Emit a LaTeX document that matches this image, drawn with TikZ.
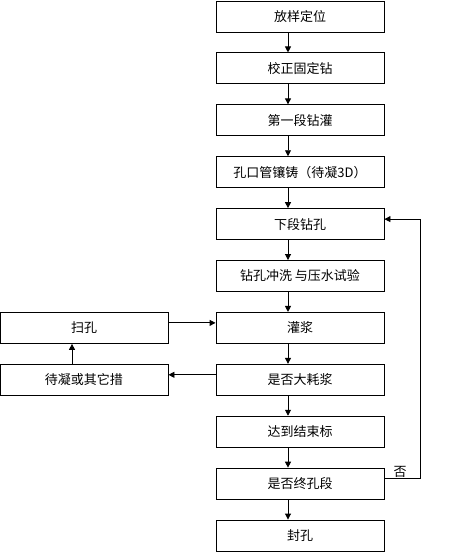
\documentclass[tikz,border=0pt]{standalone}
\usepackage{fontspec}
\setmainfont{Noto Sans CJK SC}
\usetikzlibrary{arrows.meta, positioning, calc}

\begin{document}
\begin{tikzpicture}[
    x=1pt, y=-1pt,
    stepbox/.style={rectangle, draw=black, line width=0.9pt, fill=white,
                    minimum width=168pt, minimum height=31pt, inner sep=0pt,
                    font=\fontsize{13}{15}\selectfont},
    arrow/.style={-{Triangle[length=6pt,width=6pt]}, line width=0.9pt}
]
\useasboundingbox (0,0) rectangle (456,552);

% Main column
\node[stepbox] at (300,16.5) (fy) {放样定位};
\node[stepbox] at (300,68.4) (jz) {校正固定钻};
\node[stepbox] at (300,120.3) (dy) {第一段钻灌};
\node[stepbox] at (300,172.2) (kk) {孔口管镶铸（待凝3D）};
\node[stepbox] at (300,224.1) (xd) {下段钻孔};
\node[stepbox] at (300,276) (cx) {钻孔冲洗 与压水试验};
\node[stepbox] at (300,327.9) (gj) {灌浆};
\node[stepbox] at (300,379.8) (dh) {是否大耗浆};
\node[stepbox] at (300,431.7) (js) {达到结束标};
\node[stepbox] at (300,483.6) (zk) {是否终孔段};
\node[stepbox] at (300,535.5) (fk) {封孔};

% Side column
\node[stepbox] at (84,327.9) (sk) {扫孔};
\node[stepbox] at (84,379.8) (dn) {待凝或其它措};

% Arrows down the main column
\foreach \a/\b in {fy/jz, jz/dy, dy/kk, kk/xd, xd/cx, cx/gj, gj/dh, dh/js, js/zk, zk/fk}
    \draw[arrow] ([xshift=-12pt]\a.south) -- ([xshift=-12pt]\b.north);

% Side loop
\draw[arrow] ([yshift=5pt]dh.west) -- ([yshift=5pt]dn.east);
\draw[arrow] ([xshift=-12pt]dn.north) -- ([xshift=-12pt]sk.south);
\draw[arrow] ([yshift=5pt]sk.east) -- ([yshift=5pt]gj.west);

% Back to next section
\coordinate (rt) at (420,0);
\draw[arrow] ([yshift=5pt]zk.east) -- ([yshift=5pt]zk.east -| rt) |- ([yshift=5pt]xd.east);
\node[font=\fontsize{13}{15}\selectfont, anchor=south west, inner sep=1pt]
    at ([xshift=8pt,yshift=5pt]zk.east) (no) {否};

\end{tikzpicture}
\end{document}
